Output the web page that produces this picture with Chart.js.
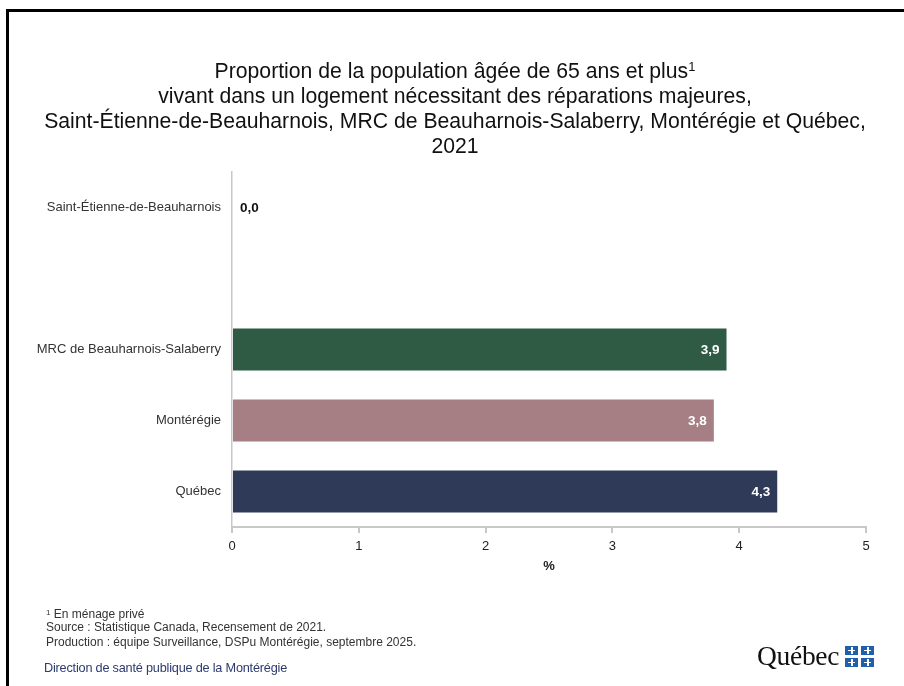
<!DOCTYPE html>
<html lang="fr">
<head>
<meta charset="utf-8">
<script src="https://cdn.jsdelivr.net/npm/chart.js@4.4.1/dist/chart.umd.min.js"></script>
<style>
  html, body { margin:0; padding:0; background:#fff; }
  #wrap { position:relative; width:904px; height:686px; overflow:hidden; background:#fff; }
  #c { position:absolute; left:0; top:0; }
  #frame { position:absolute; left:6px; top:9px; width:910px; height:700px; border-top:3px solid #000; border-left:3px solid #000; box-sizing:border-box; }
  #title { position:absolute; left:0; width:910px; top:58px; text-align:center; font-family:"Liberation Sans", Arial, sans-serif; font-size:21.2px; line-height:25px; color:#111; white-space:nowrap; }
  #title sup { font-size:13px; vertical-align:7px; line-height:0; }
  .note { position:absolute; left:46px; font-family:"Liberation Sans", Arial, sans-serif; font-size:12px; color:#333; white-space:nowrap; line-height:14px; }
  #dir { position:absolute; left:44px; top:661px; font-family:"Liberation Sans Narrow", "Liberation Sans", sans-serif; font-size:12.7px; color:#2c3a6e; white-space:nowrap; letter-spacing:-0.2px; }
  #logo { position:absolute; left:757px; top:641px; height:30px; display:flex; align-items:center; }
  #logo span { font-family:"Liberation Serif", "DejaVu Serif", serif; font-size:27.5px; color:#111; letter-spacing:-0.3px; }
  #flag { display:grid; grid-template-columns:13px 13px; grid-template-rows:9px 9px; gap:3px 3px; margin-left:6px; }
  #flag div { background:#1f5fae; position:relative; }
  #flag div::before { content:""; position:absolute; left:6px; top:1px; width:1.5px; height:7px; background:#fff; }
  #flag div::after { content:""; position:absolute; left:3px; top:4px; width:7px; height:1.5px; background:#fff; }
</style>
</head>
<body>
<div id="wrap">
  <canvas id="c" width="904" height="686"></canvas>
  <div id="frame"></div>
  <div id="title">
    <div>Proportion de la population âgée de 65 ans et plus<sup>1</sup></div>
    <div>vivant dans un logement nécessitant des réparations majeures,</div>
    <div>Saint-Étienne-de-Beauharnois, MRC de Beauharnois-Salaberry, Montérégie et Québec,</div>
    <div>2021</div>
  </div>
  <div class="note" style="top:606px;"><span style="font-size:8px;vertical-align:3px;">1</span> En ménage privé</div>
  <div class="note" style="top:620px;">Source : Statistique Canada, Recensement de 2021.</div>
  <div class="note" style="top:635px;">Production : équipe Surveillance, DSPu Montérégie, septembre 2025.</div>
  <div id="dir">Direction de santé publique de la Montérégie</div>
  <div id="logo"><span>Québec</span><div id="flag"><div></div><div></div><div></div><div></div></div></div>
</div>
<script>
const categories = ["Saint-Étienne-de-Beauharnois", "", "MRC de Beauharnois-Salaberry", "Montérégie", "Québec"];
const values = [0.0, null, 3.9, 3.8, 4.3];
const barColors = ["#2f5a44", "#ffffff", "#2f5a44", "#a67f84", "#2f3a58"];
const xTicks = [0, 1, 2, 3, 4, 5];

const valueLabels = {
  id: 'valueLabels',
  afterDatasetsDraw(chart) {
    const ctx = chart.ctx;
    const meta = chart.getDatasetMeta(0);
    ctx.save();
    ctx.font = 'bold 13.5px "Liberation Sans", Arial, sans-serif';
    ctx.textBaseline = 'middle';
    meta.data.forEach((bar, i) => {
      const v = values[i];
      if (v === null || v === undefined) return;
      const txt = v.toFixed(1).replace('.', ',');
      if (v > 0.5) {
        ctx.fillStyle = '#ffffff';
        ctx.textAlign = 'right';
        ctx.fillText(txt, bar.x - 7, bar.y + 1);
      } else {
        ctx.fillStyle = '#111111';
        ctx.textAlign = 'left';
        ctx.fillText(txt, bar.x + 8, bar.y + 1);
      }
    });
    ctx.restore();
  }
};

new Chart(document.getElementById('c'), {
  type: 'bar',
  data: {
    labels: categories,
    datasets: [{
      data: values,
      backgroundColor: barColors,
      borderWidth: 0,
      barPercentage: 0.59,
      categoryPercentage: 1.0
    }]
  },
  options: {
    indexAxis: 'y',
    responsive: false,
    animation: false,
    events: [],
    layout: { padding: { top: 172, left: 20, right: 38, bottom: 109 } },
    plugins: {
      legend: { display: false },
      tooltip: { enabled: false },
      title: { display: false }
    },
    scales: {
      x: {
        min: 0, max: 5,
        afterBuildTicks(scale) { scale.ticks = xTicks.map(v => ({ value: v })); },
        afterFit(scale) { scale.height = 50; },
        grid: { drawOnChartArea: false, drawTicks: true, tickLength: 6, color: '#c8c8c8', lineWidth: 2 },
        border: { display: true, color: '#c8c8c8', width: 2 },
        ticks: { color: '#222', padding: 6, font: { family: '"Liberation Sans", Arial, sans-serif', size: 13 } },
        title: { display: true, text: '%', color: '#222', padding: { top: 2, bottom: 3 }, font: { family: '"Liberation Sans", Arial, sans-serif', size: 13, weight: 'bold' } }
      },
      y: {
        afterFit(scale) { scale.width = 212; },
        grid: { display: false, drawTicks: false },
        border: { display: true, color: '#c8c8c8', width: 1.5 },
        ticks: { color: '#333', padding: 11, font: { family: '"Liberation Sans", Arial, sans-serif', size: 13 } }
      }
    }
  },
  plugins: [valueLabels]
});
</script>
</body>
</html>
